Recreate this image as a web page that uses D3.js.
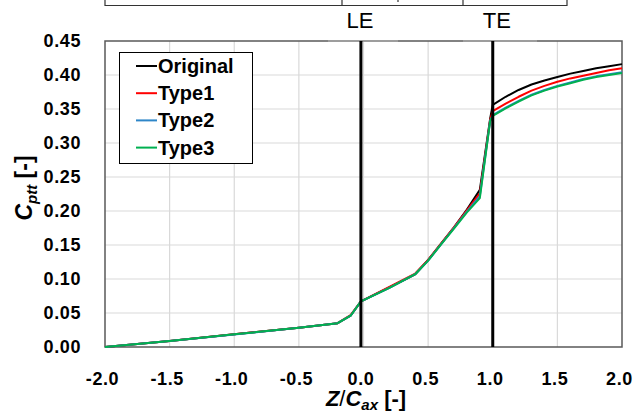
<!DOCTYPE html>
<html lang="en">
<head>
<meta charset="UTF-8">
<script src="https://cdnjs.cloudflare.com/ajax/libs/d3/7.8.5/d3.min.js"></script>
<title>Cptt along Z/Cax</title>
<style>
  body { margin: 0; background: #fff; }
  text { font-family: "Liberation Sans", Arial, sans-serif; }
</style>
</head>
<body>
<div id="chart"></div>
<script>
// values
let zPos  = [-2.0, -1.5, -1.0, -0.5, -0.2, -0.1, -0.02, 0.2, 0.4, 0.5, 0.6, 0.7, 0.8, 0.9, 0.98,
             1.0, 1.1, 1.2, 1.3, 1.4, 1.5, 1.6, 1.7, 1.8, 1.9, 2.0];
let original = [0, 0.009, 0.0187, 0.0284, 0.035, 0.046, 0.067, 0.0875, 0.107, 0.128, 0.152, 0.176, 0.202, 0.231, 0.336,
                0.356, 0.368, 0.378, 0.386, 0.392, 0.397, 0.402, 0.406, 0.410, 0.413, 0.416];
let type1 = [0, 0.009, 0.0187, 0.0284, 0.035, 0.047, 0.067, 0.0885, 0.108, 0.128, 0.152, 0.176, 0.201, 0.226, 0.334,
             0.347, 0.358, 0.368, 0.377, 0.384, 0.390, 0.395, 0.399, 0.403, 0.407, 0.410];
let type2 = [0, 0.009, 0.0185, 0.0282, 0.035, 0.046, 0.067, 0.087, 0.107, 0.127, 0.151, 0.175, 0.199, 0.222, 0.333,
             0.341, 0.352, 0.362, 0.371, 0.378, 0.384, 0.389, 0.394, 0.398, 0.401, 0.404];
let type3 = [0, 0.009, 0.0186, 0.0283, 0.035, 0.046, 0.067, 0.087, 0.107, 0.127, 0.151, 0.174, 0.198, 0.219, 0.332,
             0.340, 0.351, 0.361, 0.370, 0.377, 0.383, 0.388, 0.393, 0.397, 0.400, 0.403];

let seriesNames  = ["Original", "Type1", "Type2", "Type3"];
let seriesColors = ["#000000", "#ff0000", "#2e86c8", "#00b050"];
let seriesValues = [original, type1, type2, type3];

let xTicks = [-2.0, -1.5, -1.0, -0.5, 0.0, 0.5, 1.0, 1.5, 2.0];
let yTicks = [0, 0.05, 0.10, 0.15, 0.20, 0.25, 0.30, 0.35, 0.40, 0.45];

// leading / trailing edge markers
let edgeLabels = ["LE", "TE"];
let edgePos = [-0.02, 1.0];

// settings
let width = 644;
let height = 416;
let plotLeft = 105, plotRight = 622, plotTop = 41, plotBottom = 347;

let svg = d3.select("#chart")
  .append("svg")
  .attr("width", width)
  .attr("height", height);

let x = d3.scaleLinear().domain([-2, 2]).range([plotLeft, plotRight]);
let y = d3.scaleLinear().domain([0, 0.45]).range([plotBottom, plotTop]);

// bits of the table that was cut off at the top of the figure
let tableBits = svg.append("g").attr("stroke", "#333").attr("stroke-width", 1.2).attr("fill", "none");
tableBits.append("path").attr("d", "M105,0 V5.5 H567 V0");
tableBits.append("line").attr("x1", 342).attr("x2", 342).attr("y1", 0).attr("y2", 5.5);
tableBits.append("line").attr("x1", 463).attr("x2", 463).attr("y1", 0).attr("y2", 5.5);
tableBits.append("line").attr("x1", 398).attr("x2", 398).attr("y1", 0).attr("y2", 2);

// grid
svg.append("g")
  .selectAll("line")
  .data(xTicks.slice(1, -1))
  .enter()
  .append("line")
  .attr("x1", d => x(d)).attr("x2", d => x(d))
  .attr("y1", plotTop).attr("y2", plotBottom)
  .attr("stroke", "#d9d9d9").attr("stroke-width", 1.2);

svg.append("g")
  .selectAll("line")
  .data(yTicks.slice(1, -1))
  .enter()
  .append("line")
  .attr("x1", plotLeft).attr("x2", plotRight)
  .attr("y1", d => y(d)).attr("y2", d => y(d))
  .attr("stroke", "#d9d9d9").attr("stroke-width", 1.2);

// frame
svg.append("rect")
  .attr("x", plotLeft).attr("y", plotTop)
  .attr("width", plotRight - plotLeft).attr("height", plotBottom - plotTop)
  .attr("fill", "none").attr("stroke", "#595959").attr("stroke-width", 1.5);

// lighter patches on the top border (under the LE/TE labels)
svg.append("g")
  .selectAll("line")
  .data([[328, 398], [463, 537]])
  .enter()
  .append("line")
  .attr("x1", d => d[0]).attr("x2", d => d[1])
  .attr("y1", plotTop).attr("y2", plotTop)
  .attr("stroke", "#a6a6a6").attr("stroke-width", 1.6);

// axes
let yAxis = svg.append("g")
  .attr("transform", `translate(${plotLeft},0)`)
  .call(d3.axisLeft(y).tickValues(yTicks).tickSize(0).tickPadding(24).tickFormat(d => d.toFixed(2)));

let xAxis = svg.append("g")
  .attr("transform", `translate(-3,${plotBottom})`)
  .call(d3.axisBottom(x).tickValues(xTicks).tickSize(0).tickPadding(25).tickFormat(d => d.toFixed(1)));

[yAxis, xAxis].forEach(function (a) {
  a.select(".domain").remove();
  a.selectAll("text")
    .attr("font-family", "'Liberation Sans', Arial, sans-serif")
    .attr("font-size", "18px")
    .attr("font-weight", "bold")
    .attr("letter-spacing", "0.6px")
    .attr("fill", "#000");
});

// series
let line = d3.line()
  .x((d, i) => x(zPos[i]))
  .y(d => y(d));

svg.append("g")
  .selectAll("path")
  .data(seriesValues)
  .enter()
  .append("path")
  .attr("d", d => line(d))
  .attr("fill", "none")
  .attr("stroke", (d, i) => seriesColors[i])
  .attr("stroke-width", 2)
  .attr("stroke-linejoin", "round");

// LE / TE lines
svg.append("g")
  .selectAll("line")
  .data(edgePos)
  .enter()
  .append("line")
  .attr("x1", d => x(d)).attr("x2", d => x(d))
  .attr("y1", plotTop).attr("y2", plotBottom)
  .attr("stroke", "#000").attr("stroke-width", 3);

svg.append("g")
  .selectAll("text")
  .data(edgeLabels)
  .enter()
  .append("text")
  .text(d => d)
  .attr("x", (d, i) => x(edgePos[i]) + (i === 0 ? -1 : 4))
  .attr("y", 28)
  .attr("text-anchor", "middle")
  .attr("font-size", "22px")
  .attr("fill", "#000");

// legend
let legend = svg.append("g");
legend.append("rect")
  .attr("x", 119.5).attr("y", 52.5)
  .attr("width", 133).attr("height", 111)
  .attr("fill", "#fff").attr("stroke", "#000").attr("stroke-width", 1);

let rows = legend.selectAll("g")
  .data(seriesNames)
  .enter()
  .append("g")
  .attr("transform", (d, i) => `translate(0,${66 + i * 27.2})`);

rows.append("line")
  .attr("x1", 136).attr("x2", 157)
  .attr("stroke", (d, i) => seriesColors[i])
  .attr("stroke-width", 2);

rows.append("text")
  .text(d => d)
  .attr("x", 158)
  .attr("y", 7)
  .attr("font-size", "20px")
  .attr("font-weight", "bold")
  .attr("fill", "#000");

// axis titles
let yTitle = svg.append("text")
  .attr("transform", "translate(32,188) rotate(-90)")
  .attr("text-anchor", "middle")
  .attr("font-size", "23px")
  .attr("font-weight", "bold");
yTitle.append("tspan").attr("font-style", "italic").text("C");
yTitle.append("tspan").attr("font-style", "italic").attr("font-size", "15px").attr("dy", 5).text("ptt");
yTitle.append("tspan").attr("dy", -5).text(" [-]");

let xTitle = svg.append("text")
  .attr("transform", "translate(366,406)")
  .attr("text-anchor", "middle")
  .attr("font-size", "22px")
  .attr("font-weight", "bold");
xTitle.append("tspan").attr("font-style", "italic").text("Z");
xTitle.append("tspan").attr("font-weight", "normal").text("/");
xTitle.append("tspan").attr("font-style", "italic").text("C");
xTitle.append("tspan").attr("font-style", "italic").attr("font-size", "15px").attr("dy", 4).text("ax");
xTitle.append("tspan").attr("dy", -4).text(" [-]");
</script>
</body>
</html>
